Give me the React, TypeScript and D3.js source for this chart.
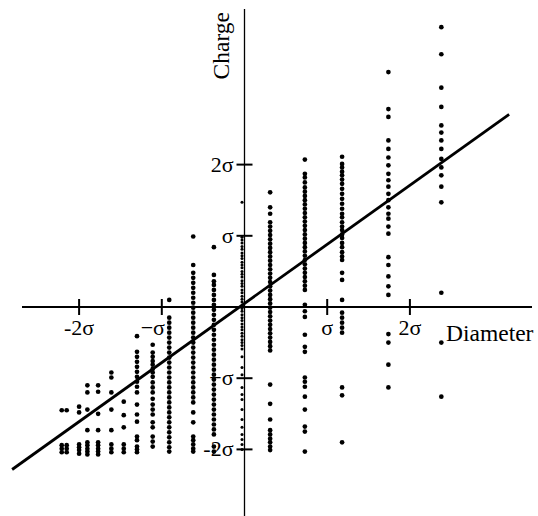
import React from 'react';
import * as d3 from 'd3';

// diameter bins (in σ) and the charges measured in each bin (in σ)
const binX = [-2.21, -2.15, -2.0, -1.9, -1.77, -1.61, -1.46, -1.3, -1.11, -0.91, -0.62, -0.37, 0.31, 0.73, 1.18, 1.74, 2.38];
const binCharges = [
  [-1.45, -1.94, -1.99, -2.04],
  [-1.45, -1.94, -1.99, -2.04],
  [-1.40, -1.48, -1.93, -1.97, -2.01, -2.06],
  [-1.10, -1.20, -1.44, -1.73, -1.90, -1.94, -1.99, -2.03, -2.07],
  [-1.10, -1.19, -1.50, -1.73, -1.90, -1.94, -1.99, -2.03, -2.07],
  [-0.92, -0.99, -1.20, -1.44, -1.73, -1.93, -1.99, -2.04],
  [-1.33, -1.52, -1.69, -1.93, -1.99, -2.04],
  [-0.41, -0.63, -0.70, -0.77, -0.84, -0.91, -0.98, -1.05, -1.12, -1.20, -1.37, -1.51, -1.61, -1.82, -1.87, -1.96, -2.00, -2.04],
  [-0.53, -0.64, -0.70, -0.76, -0.81, -0.87, -0.92, -0.98, -1.06, -1.13, -1.20, -1.29, -1.37, -1.44, -1.51, -1.62, -1.69, -1.82, -1.89, -1.96],
  [0.10, -0.15, -0.22, -0.29, -0.36, -0.43, -0.50, -0.57, -0.64, -0.71, -0.78, -0.85, -0.92, -0.99, -1.06, -1.13, -1.20, -1.27, -1.34, -1.41, -1.48, -1.55, -1.62, -1.69, -1.76, -1.83, -1.90, -1.97, -2.03],
  [0.99, 0.59, 0.48, 0.41, 0.34, 0.27, 0.20, 0.13, 0.06, -0.01, -0.08, -0.15, -0.22, -0.29, -0.36, -0.43, -0.50, -0.57, -0.64, -0.71, -0.78, -0.85, -0.92, -0.99, -1.06, -1.13, -1.20, -1.27, -1.34, -1.48, -1.62, -1.82, -1.87, -1.93, -1.99, -2.03],
  [0.84, 0.45, 0.36, 0.31, 0.24, 0.17, 0.10, 0.03, -0.04, -0.11, -0.18, -0.25, -0.32, -0.39, -0.46, -0.53, -0.60, -0.67, -0.74, -0.81, -0.88, -0.95, -1.02, -1.09, -1.16, -1.23, -1.30, -1.37, -1.44, -1.51, -1.58, -1.65, -1.72, -1.79, -1.96, -2.03],
  [1.61, 1.40, 1.31, 1.19, 1.13, 1.07, 1.01, 0.95, 0.89, 0.83, 0.77, 0.71, 0.65, 0.59, 0.53, 0.47, 0.41, 0.35, 0.29, 0.23, 0.17, 0.11, 0.05, -0.01, -0.07, -0.13, -0.19, -0.25, -0.31, -0.37, -0.43, -0.49, -0.55, -0.61, -1.09, -1.36, -1.58, -1.73, -1.79, -1.85, -1.90, -1.96, -2.01],
  [2.07, 1.87, 1.82, 1.75, 1.68, 1.62, 1.56, 1.50, 1.44, 1.38, 1.32, 1.26, 1.20, 1.14, 1.08, 1.02, 0.96, 0.90, 0.84, 0.78, 0.72, 0.66, 0.60, 0.54, 0.48, 0.42, 0.36, 0.30, 0.24, 0.03, -0.06, -0.14, -0.39, -0.56, -0.63, -0.99, -1.05, -1.12, -1.26, -1.44, -1.68, -1.75, -2.03],
  [2.11, 2.01, 1.96, 1.90, 1.85, 1.79, 1.73, 1.66, 1.59, 1.52, 1.45, 1.38, 1.31, 1.26, 1.19, 1.13, 1.08, 1.02, 0.97, 0.90, 0.84, 0.77, 0.71, 0.66, 0.48, 0.38, 0.10, -0.08, -0.15, -0.22, -0.29, -0.36, -1.13, -1.24, -1.90],
  [3.30, 2.78, 2.67, 2.34, 2.22, 2.10, 1.99, 1.87, 1.78, 1.69, 1.59, 1.50, 1.40, 1.31, 1.24, 1.13, 1.03, 0.70, 0.59, 0.43, 0.29, 0.17, -0.38, -0.50, -0.81, -1.13],
  [3.93, 3.55, 3.08, 2.81, 2.55, 2.45, 2.34, 2.22, 2.08, 1.96, 1.85, 1.69, 1.47, 0.20, -0.50, -1.26],
];

// the mean-diameter bin, plotted with finer dots
const centerX = -0.03;
const centerCharges = [1.47, 0.98, 0.94, 0.90, 0.85, 0.81, 0.76, 0.72, 0.68, 0.63, 0.59, 0.55, 0.50, 0.46, 0.42, 0.37, 0.33, 0.29, 0.24, 0.20, 0.15, 0.11, 0.07, 0.02, -0.02, -0.06, -0.11, -0.15, -0.19, -0.24, -0.28, -0.32, -0.37, -0.41, -0.46, -0.50, -0.54, -0.59, -0.70, -0.85, -0.95, -1.13, -1.23, -1.30, -1.44, -1.58, -1.69, -1.79, -1.86, -1.93, -2.00];

const xTicks = [-2, -1, 1, 2];
const xTickLabels = ['-2σ', '−σ', 'σ', '2σ'];
const yTicks = [2, 1, -1, -2];
const yTickLabels = ['2σ', 'σ', '−σ', '-2σ'];

// fitted line: charge = slope * diameter + intercept
const fitSlope = 0.83;
const fitIntercept = 0.05;
const fitRange = [-2.81, 3.2];

const W = 538, H = 516;
const OX = 244.5, OY = 307;
const font = '"Liberation Serif", "Times New Roman", serif';

export default function App() {
  let x = d3.scaleLinear().domain([-1, 1]).range([OX - 82.7, OX + 82.7]);
  let y = d3.scaleLinear().domain([-1, 1]).range([OY + 71.2, OY - 71.2]);

  let fit = d3.line<number>()
    .x(d => x(d))
    .y(d => y(fitSlope * d + fitIntercept));

  return (
    <svg width={W} height={H} style={{ position: 'absolute', left: 0, top: 0, background: '#fff' }}>
      {/* axes */}
      <line x1={22} x2={532} y1={y(0)} y2={y(0)} stroke="#000" strokeWidth={2} />
      <line x1={x(0)} x2={x(0)} y1={9} y2={H} stroke="#000" strokeWidth={1.3} />

      {xTicks.map((t, i) => (
        <g key={'xt' + i}>
          <line x1={x(t)} x2={x(t)} y1={y(0) - 8} y2={y(0) + 8} stroke="#000" strokeWidth={2} />
          <text x={x(t) + (t === -1 ? -9 : 0)} y={y(0) + 28} textAnchor="middle" fontFamily={font} fontSize={22}>{xTickLabels[i]}</text>
        </g>
      ))}
      {yTicks.map((t, i) => (
        <g key={'yt' + i}>
          <line x1={x(0) - 8} x2={x(0) + 8} y1={y(t)} y2={y(t)} stroke="#000" strokeWidth={2} />
          <text x={x(0) - 11} y={y(t) + 7} textAnchor="end" fontFamily={font} fontSize={22}>{yTickLabels[i]}</text>
        </g>
      ))}

      {binX.map((bx, i) => binCharges[i].map((c, j) => (
        <circle key={i + '-' + j} cx={x(bx)} cy={y(c)} r={2.35} fill="#000" />
      )))}
      {centerCharges.map((c, j) => (
        <circle key={'c' + j} cx={x(centerX)} cy={y(c)} r={1.5} fill="#000" />
      ))}

      <path d={fit(fitRange) || ''} fill="none" stroke="#000" strokeWidth={2.8} />

      <text x={446} y={341} fontFamily={font} fontSize={23.5}>Diameter</text>
      <text transform="translate(229,12) rotate(-90)" textAnchor="end" fontFamily={font} fontSize={23.5}>Charge</text>
    </svg>
  );
}
